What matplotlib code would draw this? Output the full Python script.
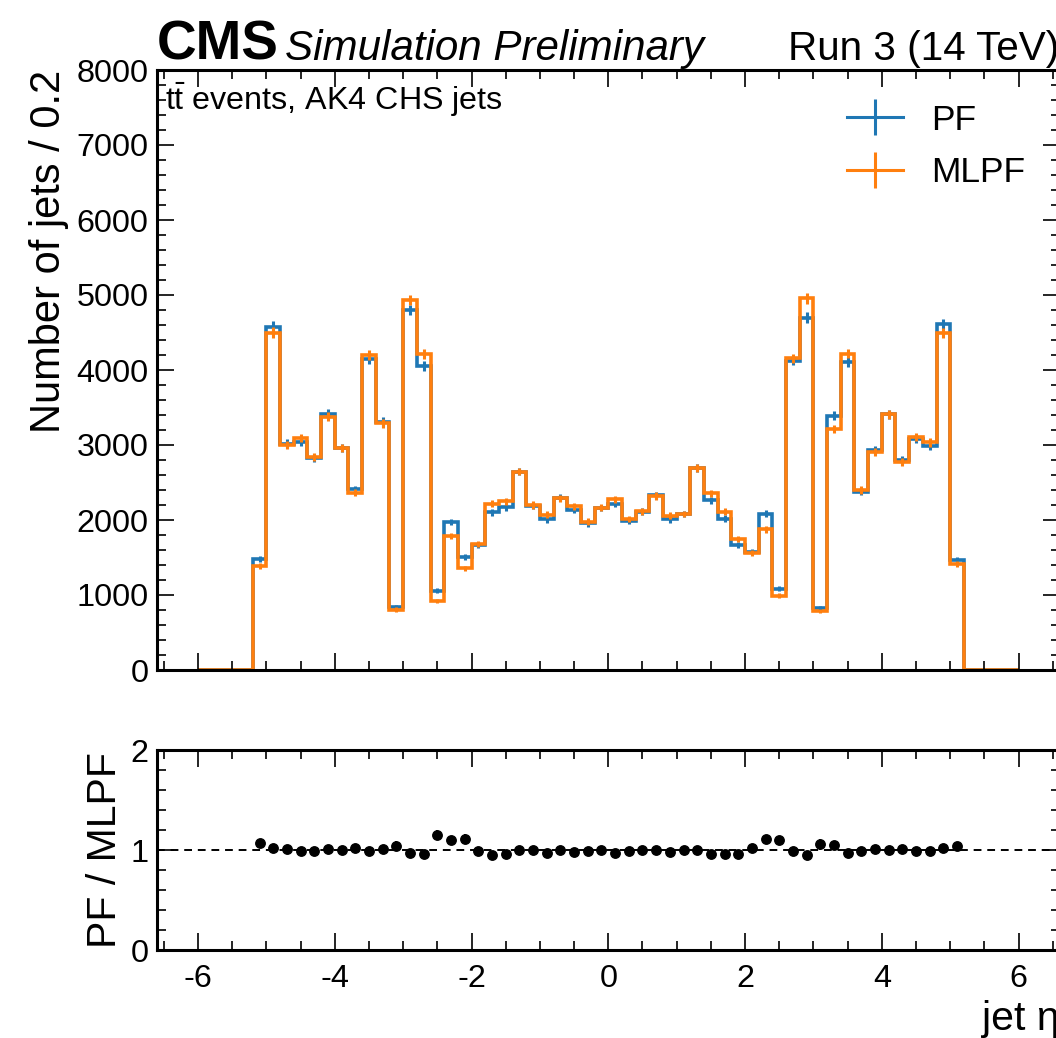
import numpy as np
import matplotlib
matplotlib.use("Agg")
import matplotlib.pyplot as plt
from matplotlib.ticker import MultipleLocator

plt.rcParams["font.family"] = ["Liberation Sans", "DejaVu Sans"]
plt.rcParams["mathtext.fontset"] = "custom"
plt.rcParams["mathtext.rm"] = "Liberation Sans"
plt.rcParams["mathtext.it"] = "Liberation Sans:italic"
plt.rcParams["axes.unicode_minus"] = False

# jet eta binning, 0.2 wide, -6 .. 6
eta_edges = np.round(np.arange(-6.0, 6.0001, 0.2), 1)

# jet counts per bin, -5.2 .. 5.2 (outside that range the bins are empty)
pf_counts = [1485, 4580, 3020, 3045, 2825, 3420, 2960, 2410, 4145, 3310,
             835, 4800, 4055, 1055, 1975, 1510, 1665, 2105, 2170, 2645,
             2190, 2010, 2300, 2140, 1955, 2160, 2215, 1990, 2110, 2330,
             2010, 2080, 2690, 2265, 2020, 1665, 1580, 2085, 1085, 4125,
             4700, 830, 3390, 4110, 2380, 2935, 3410, 2800, 3080, 2990,
             4610, 1470]
mlpf_counts = [1390, 4500, 3000, 3090, 2845, 3380, 2960, 2365, 4200, 3290,
               805, 4935, 4215, 920, 1790, 1355, 1675, 2220, 2250, 2645,
               2200, 2068, 2290, 2185, 1978, 2165, 2275, 2012, 2115, 2320,
               2055, 2080, 2690, 2355, 2110, 1742, 1556, 1876, 990, 4155,
               4955, 785, 3215, 4220, 2400, 2910, 3410, 2778, 3110, 3035,
               4498, 1410]

pad = [0] * 4
pf = np.array(pad + pf_counts + pad, dtype=float)
mlpf = np.array(pad + mlpf_counts + pad, dtype=float)
centers = 0.5 * (eta_edges[1:] + eta_edges[:-1])

c_pf = "#1f77b4"
c_mlpf = "#ff7f0e"

fig = plt.figure(figsize=(10.56, 10.38), dpi=100)
W, H = 1056.0, 1038.0
x0, x1 = 157 / W, 1059.6 / W
ax = fig.add_axes([x0, 1 - 670 / H, x1 - x0, 600 / H])
rax = fig.add_axes([x0, 1 - 950 / H, x1 - x0, 200 / H], sharex=ax)

# histograms with sqrt(N) errors
for vals, col in [(pf, c_pf), (mlpf, c_mlpf)]:
    ax.stairs(vals, eta_edges, color=col, lw=2.6, baseline=0)
    m = vals > 0
    ax.errorbar(centers[m], vals[m], yerr=np.sqrt(vals[m]), fmt="none",
                ecolor=col, elinewidth=2.2, capsize=0)

h_pf = ax.errorbar([np.nan], [np.nan], yerr=[1], color=c_pf, lw=2.2, elinewidth=2.2)
h_ml = ax.errorbar([np.nan], [np.nan], yerr=[1], color=c_mlpf, lw=2.2, elinewidth=2.2)
ax.legend([h_pf, h_ml], ["PF", "MLPF"], loc="upper right",
          bbox_to_anchor=(1 - 34.6 / 902.6, 0.944), frameon=False,
          fontsize=25.5, handlelength=1.57, handletextpad=0.8,
          labelspacing=0.56, borderpad=0, borderaxespad=0)

# ratio panel
ok = (pf > 0) & (mlpf > 0)
ratio = np.full_like(pf, np.nan)
ratio[ok] = pf[ok] / mlpf[ok]
rerr = np.full_like(pf, np.nan)
rerr[ok] = ratio[ok] * np.sqrt(1 / pf[ok] + 1 / mlpf[ok])
rax.axhline(1.0, color="black", ls="--", lw=1.4, dashes=(4, 3))
rax.errorbar(centers[ok], ratio[ok], yerr=rerr[ok], fmt="o", color="black",
             markersize=6.8, elinewidth=1.5, capsize=0)

ax.set_xlim(-6.6, 6.6)
ax.set_ylim(0, 8000)
rax.set_ylim(0, 2)

for a in (ax, rax):
    a.tick_params(which="both", direction="in", top=True, right=True,
                  labelsize=23.3, width=1.2)
    a.tick_params(which="major", length=12.5)
    a.tick_params(which="minor", length=6.5)
    a.tick_params(axis="x", pad=10)
    a.tick_params(axis="y", pad=6)
    for s in a.spines.values():
        s.set_linewidth(2.2)
ax.xaxis.set_major_locator(MultipleLocator(2))
ax.xaxis.set_minor_locator(MultipleLocator(0.5))
ax.yaxis.set_major_locator(MultipleLocator(1000))
ax.yaxis.set_minor_locator(MultipleLocator(200))
rax.yaxis.set_major_locator(MultipleLocator(1))
rax.yaxis.set_minor_locator(MultipleLocator(0.2))
ax.tick_params(axis="x", labelbottom=False)

ax.set_ylabel("Number of jets / 0.2", fontsize=30, loc="top")
ax.yaxis.set_label_coords(-0.098, 1.0)
rax.set_ylabel("PF / MLPF", fontsize=29.5)
rax.yaxis.set_label_coords(-0.037, 0.5)
rax.set_xlabel("jet η", fontsize=29.5, loc="right")
rax.xaxis.set_label_coords(1.0, -0.25)

# header and process text
ax.text(0.0, 1.0167, "CMS", transform=ax.transAxes, fontsize=39.5,
        fontweight="bold", ha="left", va="baseline")
ax.text(0.1418, 1.0167, "Simulation Preliminary", transform=ax.transAxes,
        fontsize=30.3, style="italic", ha="left", va="baseline")
ax.text(1.0, 1.0167, "Run 3 (14 TeV)", transform=ax.transAxes,
        fontsize=29.2, ha="right", va="baseline")
ax.text(0.0089, 0.9333, r"$\mathrm{t\bar{t}}$ events, AK4 CHS jets",
        transform=ax.transAxes, fontsize=23.2, ha="left", va="baseline")

fig.savefig("out.png", dpi=100)
